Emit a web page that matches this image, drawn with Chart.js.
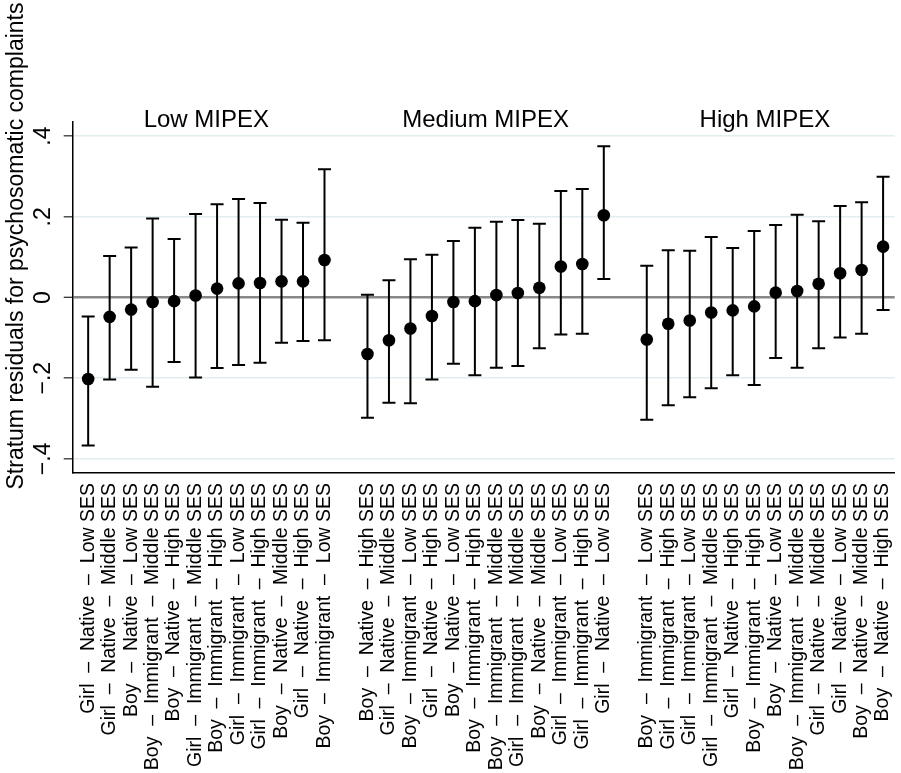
<!DOCTYPE html>
<html><head><meta charset="utf-8">
<script src="https://cdn.jsdelivr.net/npm/chart.js@4"></script>
<style>html,body{margin:0;padding:0;background:#fff}#wrap{width:901px;height:773px}</style>
</head><body><div id="wrap"><canvas id="c" width="901" height="773"></canvas></div>
<script>
const PANELS = ['Low MIPEX', 'Medium MIPEX', 'High MIPEX'];

const LOW_LABELS = [
  'Girl  –  Native  –  Low SES', 'Girl  –  Native  –  Middle SES', 'Boy  –  Native  –  Low SES',
  'Boy  –  Immigrant  –  Middle SES', 'Boy  –  Native  –  High SES', 'Girl  –  Immigrant  –  Middle SES',
  'Boy  –  Immigrant  –  High SES', 'Girl  –  Immigrant  –  Low SES', 'Girl  –  Immigrant  –  High SES',
  'Boy  –  Native  –  Middle SES', 'Girl  –  Native  –  High SES', 'Boy  –  Immigrant  –  Low SES'];
const LOW_EST = [-0.202, -0.048, -0.030, -0.011, -0.009, 0.005, 0.022, 0.035, 0.036, 0.040, 0.040, 0.093];
const LOW_LO  = [-0.367, -0.203, -0.179, -0.221, -0.160, -0.198, -0.175, -0.167, -0.162, -0.112, -0.108, -0.106];
const LOW_HI  = [-0.047, 0.103, 0.124, 0.196, 0.145, 0.207, 0.231, 0.244, 0.234, 0.193, 0.185, 0.318];

const MED_LABELS = [
  'Boy  –  Native  –  High SES', 'Girl  –  Native  –  Middle SES', 'Boy  –  Immigrant  –  Low SES',
  'Girl  –  Native  –  High SES', 'Boy  –  Native  –  Low SES', 'Boy  –  Immigrant  –  High SES',
  'Boy  –  Immigrant  –  Middle SES', 'Girl  –  Immigrant  –  Middle SES', 'Boy  –  Native  –  Middle SES',
  'Girl  –  Immigrant  –  Low SES', 'Girl  –  Immigrant  –  High SES', 'Girl  –  Native  –  Low SES'];
const MED_EST = [-0.140, -0.106, -0.077, -0.046, -0.011, -0.009, 0.006, 0.011, 0.024, 0.077, 0.083, 0.204];
const MED_LO  = [-0.298, -0.261, -0.262, -0.203, -0.164, -0.193, -0.174, -0.170, -0.126, -0.092, -0.090, 0.046];
const MED_HI  = [0.007, 0.043, 0.095, 0.106, 0.140, 0.173, 0.188, 0.192, 0.183, 0.264, 0.269, 0.375];

const HIGH_LABELS = [
  'Boy  –  Immigrant  –  Low SES', 'Girl  –  Immigrant  –  High SES', 'Girl  –  Immigrant  –  Low SES',
  'Girl  –  Immigrant  –  Middle SES', 'Girl  –  Native  –  High SES', 'Boy  –  Immigrant  –  High SES',
  'Boy  –  Native  –  Low SES', 'Boy  –  Immigrant  –  Middle SES', 'Girl  –  Native  –  Middle SES',
  'Girl  –  Native  –  Low SES', 'Boy  –  Native  –  Middle SES', 'Boy  –  Native  –  High SES'];
const HIGH_EST = [-0.104, -0.065, -0.057, -0.037, -0.032, -0.022, 0.012, 0.016, 0.034, 0.060, 0.068, 0.126];
const HIGH_LO  = [-0.303, -0.267, -0.247, -0.225, -0.193, -0.217, -0.150, -0.174, -0.126, -0.099, -0.090, -0.031];
const HIGH_HI  = [0.079, 0.117, 0.116, 0.150, 0.123, 0.165, 0.180, 0.205, 0.189, 0.227, 0.236, 0.299];

const Y_TICKS = [-0.4, -0.2, 0, 0.2, 0.4];
const Y_TICK_LABELS = ['−.4', '−.2', '0', '.2', '.4'];
const Y_TITLE = 'Stratum residuals for psychosomatic complaints';

const GROUPS = [
  {title: PANELS[0], labels: LOW_LABELS, est: LOW_EST, lo: LOW_LO, hi: LOW_HI},
  {title: PANELS[1], labels: MED_LABELS, est: MED_EST, lo: MED_LO, hi: MED_HI},
  {title: PANELS[2], labels: HIGH_LABELS, est: HIGH_EST, lo: HIGH_LO, hi: HIGH_HI}
];
const GAP = 13; // slot index offset between panels (one empty slot)
const FONT = '"Liberation Sans", Arial, Helvetica, sans-serif';

const POSITIONS = [], ALL_LABELS = [];
GROUPS.forEach((g, p) => g.labels.forEach((l, i) => { POSITIONS.push(p * GAP + i); ALL_LABELS.push(l); }));

const datasets = GROUPS.map((g, p) => ({
  label: g.title,
  data: g.est.map((v, i) => ({x: p * GAP + i, y: v})),
  pointRadius: 6.3, pointHoverRadius: 6.3,
  backgroundColor: '#000', borderColor: '#000', borderWidth: 0
}));

const errorBars = {
  id: 'errorBars',
  beforeDatasetsDraw(chart) {
    const {ctx, scales: {x, y}} = chart;
    ctx.save();
    ctx.strokeStyle = '#000';
    ctx.lineWidth = 2;
    const cap = 6.5;
    GROUPS.forEach((g, p) => {
      g.est.forEach((v, i) => {
        const px = x.getPixelForValue(p * GAP + i);
        const yl = y.getPixelForValue(g.lo[i]);
        const yh = y.getPixelForValue(g.hi[i]);
        ctx.beginPath();
        ctx.moveTo(px, yl); ctx.lineTo(px, yh);
        ctx.moveTo(px - cap, yl); ctx.lineTo(px + cap, yl);
        ctx.moveTo(px - cap, yh); ctx.lineTo(px + cap, yh);
        ctx.stroke();
      });
    });
    ctx.restore();
  }
};

const decorations = {
  id: 'decorations',
  afterDraw(chart) {
    const {ctx, scales: {x, y}} = chart;
    ctx.save();
    ctx.fillStyle = '#000';
    // panel titles
    ctx.font = '24px ' + FONT;
    ctx.textAlign = 'center';
    ctx.textBaseline = 'alphabetic';
    GROUPS.forEach((g, p) => {
      const cx = x.getPixelForValue(p * GAP + (g.labels.length - 1) / 2);
      ctx.fillText(g.title, cx, 126.5);
    });
    // y tick labels (rotated)
    ctx.font = '23px ' + FONT;
    ctx.textBaseline = 'middle';
    Y_TICKS.forEach((v, i) => {
      const py = y.getPixelForValue(v);
      ctx.save();
      ctx.translate(44, py);
      ctx.rotate(-Math.PI / 2);
      ctx.fillText(Y_TICK_LABELS[i], 0, 0);
      ctx.restore();
    });
    // y title
    ctx.save();
    ctx.translate(17, 246);
    ctx.rotate(-Math.PI / 2);
    ctx.fillText(Y_TITLE, 0, 0);
    ctx.restore();
    ctx.restore();
  }
};

new Chart(document.getElementById('c'), {
  type: 'scatter',
  data: {datasets},
  plugins: [errorBars, decorations],
  options: {
    responsive: false,
    animation: false,
    devicePixelRatio: 1,
    layout: {padding: {top: 122, left: 0, right: 0, bottom: 0}},
    plugins: {legend: {display: false}, tooltip: {enabled: false}},
    scales: {
      x: {
        type: 'linear',
        min: -0.72, max: 37.54,
        afterBuildTicks: s => { s.ticks = POSITIONS.map(v => ({value: v})); },
        afterFit: s => { s.height = 300; s.paddingLeft = 0; s.paddingRight = 0; },
        ticks: {
          autoSkip: false, minRotation: 90, maxRotation: 90, padding: 10,
          color: '#000', font: {family: FONT, size: 19.5},
          callback: (v, i) => ALL_LABELS[i]
        },
        grid: {display: false, drawTicks: false},
        border: {display: true, color: '#000', width: 1.5}
      },
      y: {
        type: 'linear',
        min: -0.435, max: 0.435,
        afterBuildTicks: s => { s.ticks = Y_TICKS.map(v => ({value: v})); },
        afterFit: s => { s.width = 72.7; },
        ticks: {display: false},
        grid: {
          color: c => (c.tick && c.tick.value === 0) ? '#888888' : '#e2edf0',
          lineWidth: c => (c.tick && c.tick.value === 0) ? 2.6 : 1.6,
          drawTicks: true, tickLength: 9, tickColor: '#333', tickWidth: 1.3
        },
        border: {display: true, color: '#000', width: 1.5}
      }
    }
  }
});
</script></body></html>
